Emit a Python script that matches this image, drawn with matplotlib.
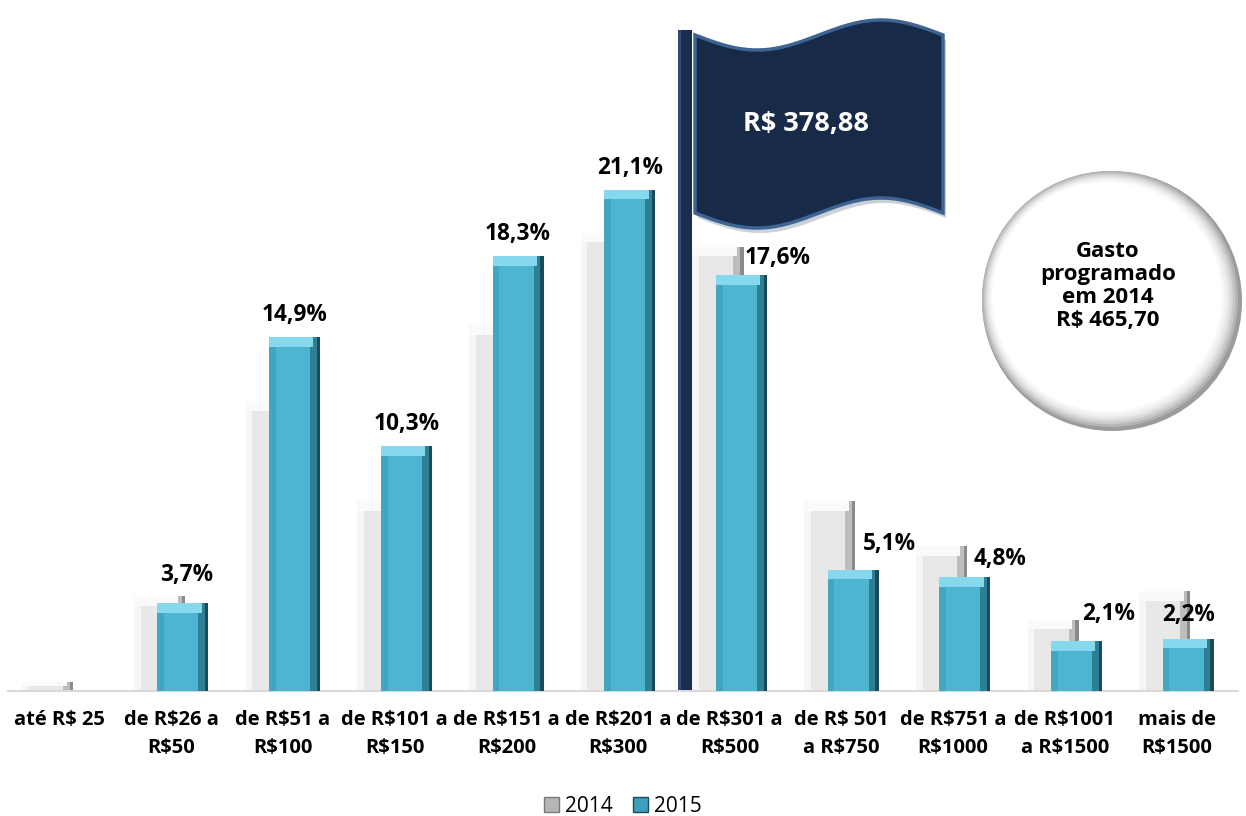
import numpy as np
import matplotlib
matplotlib.use("Agg")
import matplotlib.pyplot as plt
from matplotlib.patches import Polygon, Circle, Patch

plt.rcParams["font.family"] = ["Open Sans", "DejaVu Sans"]

categories = [
    "até R$ 25", "de R$26 a\nR$50", "de R$51 a\nR$100", "de R$101 a\nR$150",
    "de R$151 a\nR$200", "de R$201 a\nR$300", "de R$301 a\nR$500",
    "de R$ 501\na R$750", "de R$751 a\nR$1000", "de R$1001\na R$1500",
    "mais de\nR$1500",
]
share_2014 = [0.4, 4.0, 12.2, 8.0, 15.4, 19.3, 18.7, 8.0, 6.1, 3.0, 4.2]
share_2015 = [0.0, 3.7, 14.9, 10.3, 18.3, 21.1, 17.5, 5.1, 4.8, 2.1, 2.2]
labels_2015 = ["", "3,7%", "14,9%", "10,3%", "18,3%", "21,1%", "17,6%",
               "5,1%", "4,8%", "2,1%", "2,2%"]
# label nudges in pixels (some labels sit beside the grey bar)
label_dx = [0, 4, 0, 0, 0, 0, 36, 36, 35, 32, 0]
label_dy = [22, 28, 22, 22, 22, 22, 17, 26, 18, 27, 24]

flag_text = "R$ 378,88"
circle_text = "Gasto\nprogramado\nem 2014\nR$ 465,70"

W, H = 1246, 816
fig = plt.figure(figsize=(W / 100, H / 100), dpi=100)
ax = fig.add_axes([8 / W, 125 / H, 1230 / W, 593.75 / H])

x = np.arange(len(categories))
w = 0.457
off = 0.105


def bevel_bars(xs, vals, face, light, mid, dark, top, z):
    vals = np.asarray(vals)
    s = 0.06
    ax.bar(xs, vals, width=w, color=face, zorder=z)
    ax.bar(xs - w / 2 + s / 2, vals, width=s, color=light, zorder=z + 0.1)
    ax.bar(xs + w / 2 - s, vals, width=s, color=mid, zorder=z + 0.1)
    ax.bar(xs + w / 2 - s / 4, vals, width=s / 2, color=dark, zorder=z + 0.15)
    cap = np.minimum(0.4, vals * 0.45)
    ax.bar(xs - s / 2, cap, bottom=vals - cap, width=w - s, color=top,
           zorder=z + 0.2)


bevel_bars(x - off, share_2014, "#e8e8e8", "#f6f6f6", "#bdbdbd", "#8a8a8a",
           "#fafafa", 2)
mask = np.array(share_2015) > 0
bevel_bars(x[mask] + off, np.array(share_2015)[mask], "#4db5d0", "#42a6c1",
           "#2d7f96", "#1b4a58", "#86d8ec", 3)

for i, (v, lab) in enumerate(zip(share_2015, labels_2015)):
    if not lab:
        continue
    ax.annotate(lab, (x[i] + off, v), xytext=(label_dx[i], label_dy[i]),
                textcoords="offset pixels", ha="center", va="center",
                fontsize=16.3, fontweight="bold", color="black", zorder=6)

ax.set_xlim(-0.461, 10.55)
ax.set_ylim(0, 25)
ax.set_xticks(x)
ax.set_xticklabels(categories, fontsize=14.5, fontweight="bold",
                   linespacing=1.5)
ax.tick_params(axis="x", length=0, pad=14)
ax.set_yticks([])
for side in ["left", "right", "top"]:
    ax.spines[side].set_visible(False)
ax.spines["bottom"].set_color("#d9d9d9")
ax.spines["bottom"].set_linewidth(1.5)

handles = [Patch(facecolor="#b5b5b5", edgecolor="#7a7a7a", label="2014"),
           Patch(facecolor="#3d9fbb", edgecolor="#1b4a58", label="2015")]
fig.legend(handles=handles, loc="lower center", bbox_to_anchor=(0.5, -0.024),
           ncol=2, frameon=False, fontsize=15, handlelength=0.7,
           handleheight=0.7, handletextpad=0.3, columnspacing=1.0)

# decorations drawn in pixel coordinates
deco = fig.add_axes([0, 0, 1, 1], zorder=5)
deco.set_xlim(0, W)
deco.set_ylim(H, 0)
deco.axis("off")

# flag pole
deco.add_patch(Polygon([[678, 30], [692, 30], [692, 690], [678, 690]],
                       closed=True, facecolor="#1a2e50", edgecolor="none"))
deco.add_patch(Polygon([[678, 30], [681, 30], [681, 690], [678, 690]],
                       closed=True, facecolor="#2f4b78", edgecolor="none"))

# waving flag
t = np.linspace(0, 1, 80)
fx = 695 + 248 * t
wave = 15 * np.sin(2 * np.pi * t)
top_edge = np.column_stack([fx, 35 + wave])
bot_edge = np.column_stack([fx[::-1], (213 + wave)[::-1]])
flag = np.vstack([top_edge, bot_edge])
shadow = flag + np.array([3, 5])
deco.add_patch(Polygon(shadow, closed=True, facecolor="#9aa3b0",
                       edgecolor="none", alpha=0.5))
deco.add_patch(Polygon(flag, closed=True, facecolor="#172a48",
                       edgecolor="#3e6494", linewidth=2.5))
deco.text(806, 124, flag_text, ha="center", va="center", color="white",
          fontsize=19.5, fontweight="bold")

# circle with soft grey rim
cx, cy, r = 1110, 299, 130
deco.add_patch(Circle((cx + 2, cy + 2), r, facecolor="#9c9c9c",
                      edgecolor="none"))
rim = ["#b4b4b4", "#c8c8c8", "#d9d9d9", "#e7e7e7", "#f1f1f1", "#f8f8f8",
       "white"]
for k, c in enumerate(rim):
    deco.add_patch(Circle((cx - k * 0.5, cy - k * 0.4), r - 2 - k * 2.2,
                          facecolor=c, edgecolor="none"))
deco.text(cx - 2, 286, circle_text, ha="center", va="center", fontsize=16,
          fontweight="bold", linespacing=1.12)

fig.savefig("out.png", dpi=100)
